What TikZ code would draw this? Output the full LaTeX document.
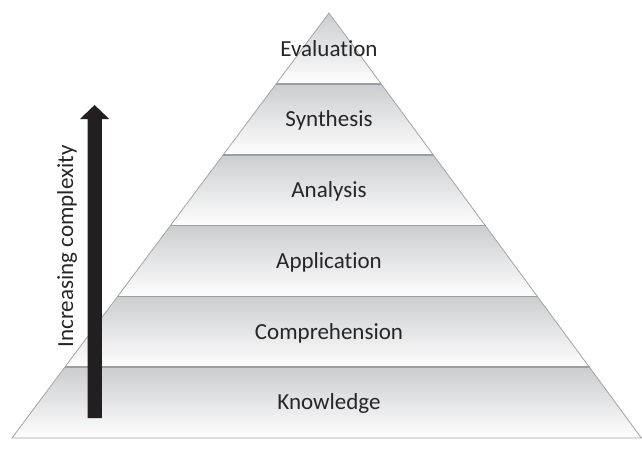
\documentclass[tikz,border=0pt]{standalone}
\usepackage{fontspec}
\setmainfont[Ligatures=NoCommon]{Carlito}
\definecolor{layertop}{RGB}{204,205,208}
\definecolor{layerbot}{RGB}{254,254,254}
\definecolor{topline}{RGB}{158,158,160}
\definecolor{edgegray}{RGB}{165,165,165}
\definecolor{arrowblack}{RGB}{35,31,32}
\definecolor{txtgray}{RGB}{38,38,38}
\begin{document}
\begin{tikzpicture}[x=1pt,y=-1pt,
  layer/.style={top color=layertop, bottom color=layerbot, draw=none},
  sepline/.style={draw=topline, line width=1.6pt},
  edgeline/.style={draw=edgegray, line width=0.8pt},
  lbl/.style={text=txtgray, font=\fontsize{23}{27}\selectfont, anchor=base, inner sep=0pt},
  arrowshape/.style={fill=arrowblack, draw=none}]
\useasboundingbox (0,0) rectangle (642,455);
% pyramid corner coordinates
\coordinate (A) at (329,13);
\coordinate (L1) at (276.2,83.8);  \coordinate (R1) at (381.1,83.8);
\coordinate (L2) at (223.3,154.7); \coordinate (R2) at (433.4,154.7);
\coordinate (L3) at (170.5,225.5); \coordinate (R3) at (485.5,225.5);
\coordinate (L4) at (117.7,296.3); \coordinate (R4) at (537.6,296.3);
\coordinate (L5) at (64.8,367.2);  \coordinate (R5) at (589.9,367.2);
\coordinate (L6) at (12,438);      \coordinate (R6) at (641.4,438);
% layers
\shade[layer] (A) -- (R1) -- (L1) -- cycle;
\shade[layer] (L1) -- (R1) -- (R2) -- (L2) -- cycle;
\shade[layer] (L2) -- (R2) -- (R3) -- (L3) -- cycle;
\shade[layer] (L3) -- (R3) -- (R4) -- (L4) -- cycle;
\shade[layer] (L4) -- (R4) -- (R5) -- (L5) -- cycle;
\shade[layer] (L5) -- (R5) -- (R6) -- (L6) -- cycle;
% separators
\draw[sepline] (L1) -- (R1);
\draw[sepline] (L2) -- (R2);
\draw[sepline] (L3) -- (R3);
\draw[sepline] (L4) -- (R4);
\draw[sepline] (L5) -- (R5);
% outline
\draw[edgeline, line join=miter] (L6) -- (A) -- (R6) -- cycle;
% labels
\node[lbl] (eval) at (329,56) {Evaluation};
\node[lbl] (synth) at (329,126.6) {Synthesis};
\node[lbl] (anal) at (329,197.4) {Analysis};
\node[lbl] (appl) at (329,268.2) {Application};
\node[lbl] (comp) at (329,339.1) {Comprehension};
\node[lbl] (know) at (329,409.9) {Knowledge};
% arrow
\fill[arrowshape] (87.6,418) -- (87.6,119) -- (80,119) -- (94.6,105) -- (109.2,119) -- (101.8,119) -- (101.8,418) -- cycle;
\node[lbl, rotate=90] (cplx) at (73,246.5) {Increasing complexity};
\end{tikzpicture}
\end{document}
